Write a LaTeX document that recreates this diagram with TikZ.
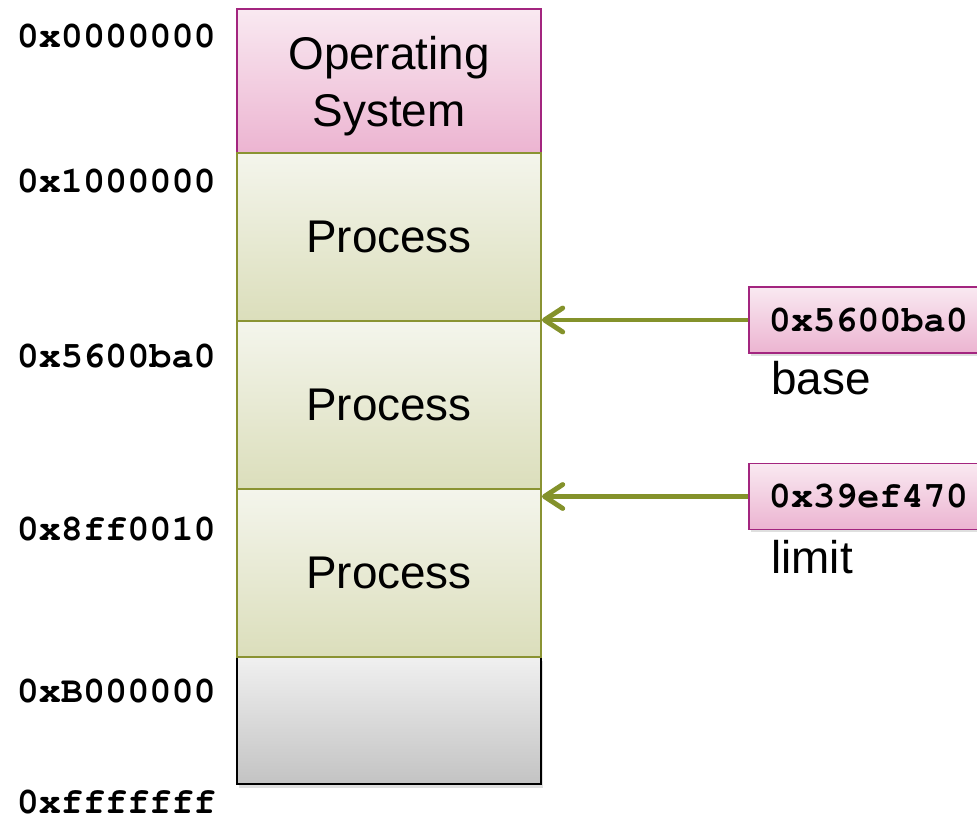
\documentclass[tikz,border=0pt]{standalone}
\usepackage[T1]{fontenc}
\usepackage{fontspec}
\setmainfont{Liberation Sans}
\newcommand\addrfont{\fontencoding{T1}\fontfamily{pcr}\fontseries{b}\selectfont}
\usetikzlibrary{arrows.meta,shadows}

\definecolor{ostop}{HTML}{F9E9F1}
\definecolor{osbot}{HTML}{ECB4D1}
\definecolor{osline}{HTML}{A3257F}
\definecolor{proctop}{HTML}{F4F5EC}
\definecolor{procbot}{HTML}{DBDEBB}
\definecolor{procline}{HTML}{8A9332}
\definecolor{freetop}{HTML}{F0F0F0}
\definecolor{freebot}{HTML}{C3C3C3}
\definecolor{ptrgreen}{HTML}{84922B}

\begin{document}
\begin{tikzpicture}[x=0.025cm,y=-0.025cm,
  seg/.style={draw,line width=1.3pt,minimum width=7.6cm,inner sep=0pt,align=center,
    font=\fontsize{32.6}{40.5}\selectfont},
  ossg/.style={seg,draw=osline,top color=ostop,bottom color=osbot},
  procsg/.style={seg,draw=procline,top color=proctop,bottom color=procbot,minimum height=4.2cm},
  freesg/.style={seg,draw=black,line width=2pt,top color=freetop,bottom color=freebot,
    drop shadow={opacity=.25,shadow xshift=1.5pt,shadow yshift=-2.5pt}},
  addr/.style={font=\addrfont\fontsize{26.2}{30}\selectfont,inner sep=0pt},
  reg/.style={addr,draw=osline,line width=1.3pt,top color=ostop,bottom color=osbot,
    inner xsep=0.5cm,minimum height=1.65cm,anchor=west,
    drop shadow={opacity=.25,shadow xshift=1.5pt,shadow yshift=-2pt}},
  regname/.style={font=\fontsize{32.6}{39}\selectfont,inner sep=0pt,anchor=base west},
  ptr/.style={-{Straight Barb[length=13pt,width=17pt,round]},line width=3.5pt,ptrgreen}]

  \path[use as bounding box,clip] (0,0) rectangle (977,819);

  % memory column
  \node(free)[freesg,minimum height=3.175cm] at (389,720.5) {};
  \node(os)[ossg,minimum height=3.6cm,text depth=0pt] at (389,81) {Operating\\System};
  \node(p1)[procsg] at (389,237) {Process};
  \node(p2)[procsg] at (389,405) {Process};
  \node(p3)[procsg] at (389,573) {Process};

  % addresses
  \node(a0)[addr,anchor=east] at (216,36) {0x0000000};
  \node(a1)[addr,anchor=east] at (216,181) {0x1000000};
  \node(a2)[addr,anchor=east] at (216,356) {0x5600ba0};
  \node(a3)[addr,anchor=east] at (216,529) {0x8ff0010};
  \node(a4)[addr,anchor=east] at (216,691) {0xB000000};
  \node(a5)[addr,anchor=east] at (216,802) {0xfffffff};

  % registers
  \node(base)[reg] at (748,320) {0x5600ba0};
  \node(limit)[reg] at (748,496.5) {0x39ef470};
  \node(basetxt)[regname] at (771,394) {base};
  \node(limittxt)[regname] at (771,573) {limit};

  \draw [ptr] (base.west) -- (base.west -| p1.east);
  \draw [ptr] (limit.west) -- (limit.west -| p2.east);

\end{tikzpicture}
\end{document}
